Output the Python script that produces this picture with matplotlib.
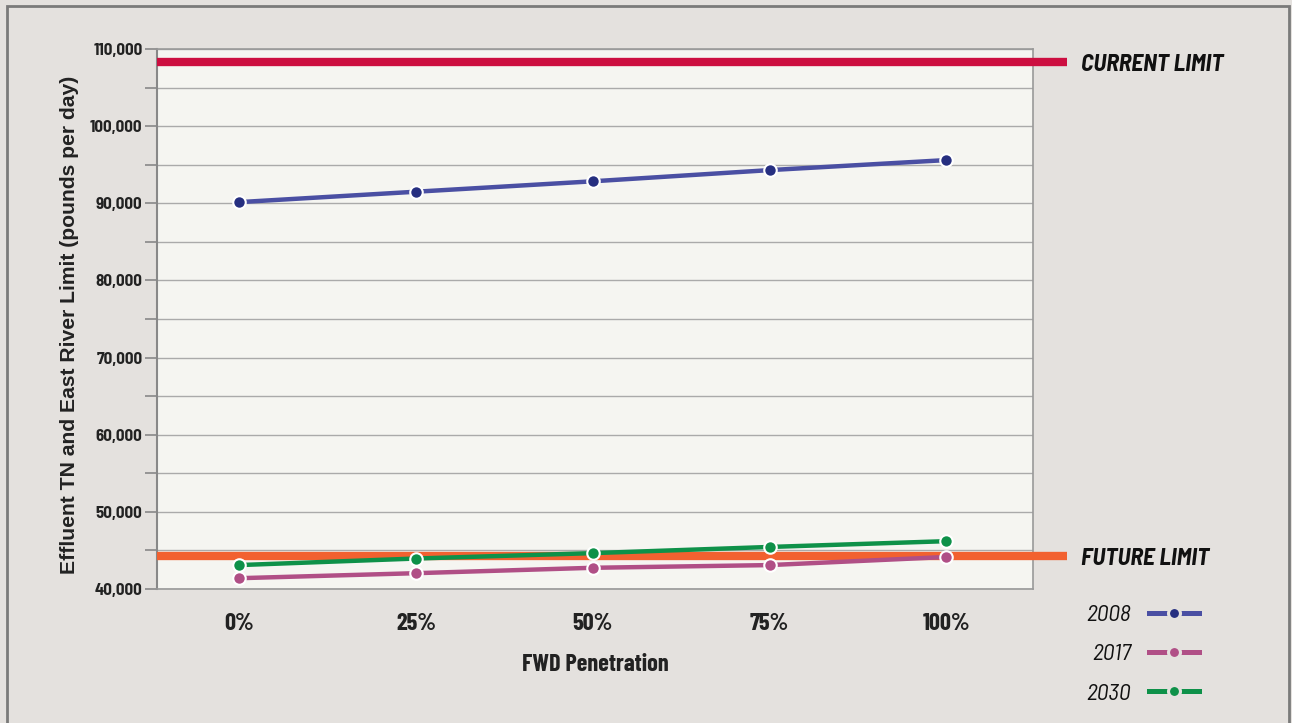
import matplotlib
matplotlib.use("Agg")
import matplotlib.pyplot as plt
import matplotlib.transforms as mtransforms
from matplotlib.patches import Rectangle
from matplotlib.lines import Line2D
from matplotlib.ticker import MultipleLocator, FuncFormatter

# data
penetration = ["0%", "25%", "50%", "75%", "100%"]
years = ["2008", "2017", "2030"]
tn_2008 = [90150, 91500, 92850, 94300, 95600]
tn_2017 = [41400, 42050, 42750, 43100, 44150]
tn_2030 = [43100, 43950, 44650, 45450, 46200]
current_limit = 108300
future_limit = 44300

line_colors = ["#4a4fa3", "#b04f86", "#0e9149"]
marker_colors = ["#262f80", "#b04f86", "#0e9149"]
bg = "#e4e1de"
narrow = ["Barlow Condensed", "DejaVu Sans"]
semi = ["Barlow Semi Condensed", "DejaVu Sans"]

fig = plt.figure(figsize=(12.92, 7.23), dpi=100, facecolor=bg)
ax = fig.add_axes([157 / 1292, 1 - 589 / 723, 876 / 1292, 540 / 723])
ax.set_facecolor("#f5f5f1")

x = list(range(len(penetration)))
for vals, lc, mc in zip([tn_2008, tn_2017, tn_2030], line_colors, marker_colors):
    ax.plot(x, vals, color=lc, lw=3.2, zorder=4, solid_capstyle="butt")
    ax.plot(x, vals, ls="none", marker="o", ms=9, mfc=mc, mec="white", mew=1.5, zorder=5)

# limit lines run past the right spine
trans = mtransforms.blended_transform_factory(ax.transAxes, ax.transData)
ax.plot([0, 1.039], [current_limit, current_limit], color="#cc0e40", lw=6,
        transform=trans, clip_on=False, zorder=3, solid_capstyle="butt")
ax.plot([0, 1.039], [future_limit, future_limit], color="#f26130", lw=6,
        transform=trans, clip_on=False, zorder=3, solid_capstyle="butt")
label_trans = mtransforms.offset_copy(trans, fig=fig, x=0, y=-3, units="dots")
ax.text(1.055, current_limit, "CURRENT LIMIT", transform=label_trans, va="center", ha="left",
        fontsize=17.2, fontweight="bold", style="italic", family=semi, color="#111111")
ax.text(1.055, future_limit, "FUTURE LIMIT", transform=label_trans, va="center", ha="left",
        fontsize=17.2, fontweight="bold", style="italic", family=semi, color="#111111")

ax.set_xlim(-0.465, 4.49)
ax.set_ylim(40000, 110000)
ax.yaxis.set_major_locator(MultipleLocator(10000))
ax.yaxis.set_minor_locator(MultipleLocator(5000))
ax.yaxis.set_major_formatter(FuncFormatter(lambda v, p: f"{int(v):,}"))
ax.grid(True, which="both", axis="y", color="#aaaaaa", lw=1)
ax.set_axisbelow(True)

ax.set_xticks(x)
ax.set_xticklabels(penetration, fontsize=17.5, fontweight="bold", family=narrow, color="#222222")
ax.tick_params(axis="x", length=0, pad=17)
ax.tick_params(axis="y", which="both", length=9, color="#888888", width=1.2, direction="out", pad=1.5)
for lab in ax.get_yticklabels():
    lab.set_family(semi)
    lab.set_fontweight("bold")
    lab.set_fontsize(12.2)
    lab.set_color("#222222")

for s in ["top", "right", "bottom"]:
    ax.spines[s].set_color("#999999")
    ax.spines[s].set_linewidth(1.2)
ax.spines["left"].set_color("#888888")
ax.spines["left"].set_linewidth(1.5)

ax.set_ylabel("Effluent TN and East River Limit (pounds per day)", fontsize=15.2,
              fontweight="bold", family=["Liberation Sans", "DejaVu Sans"], color="#222222")
ax.yaxis.set_label_coords(-0.0895, 0.489)
ax.set_xlabel("FWD Penetration", fontsize=17.5, fontweight="bold", family=narrow, color="#222222")
ax.xaxis.set_label_coords(0.5, -0.12)

# legend: label on the left, line handle on the right
handles = [Line2D([0], [0], color=lc, lw=3.6, marker="o", ms=8.6, mfc=mc, mec=bg, mew=2.2)
           for lc, mc in zip(line_colors, marker_colors)]
leg = fig.legend(handles, years, loc="upper left", bbox_to_anchor=(1065 / 1292, 1 - 583 / 723),
                 frameon=False, markerfirst=False, handlelength=2.15, labelspacing=0.76,
                 handletextpad=0.75, prop={"family": semi, "style": "italic", "size": 17})
for t in leg.get_texts():
    t.set_color("#111111")

# outer frame
fig.add_artist(Rectangle((7 / 1292, -0.1), 1282 / 1292, 1.1 - 6 / 723, transform=fig.transFigure,
                         fill=False, edgecolor="#7a7a7a", lw=2))

fig.savefig("out.png", dpi=100, facecolor=bg)
